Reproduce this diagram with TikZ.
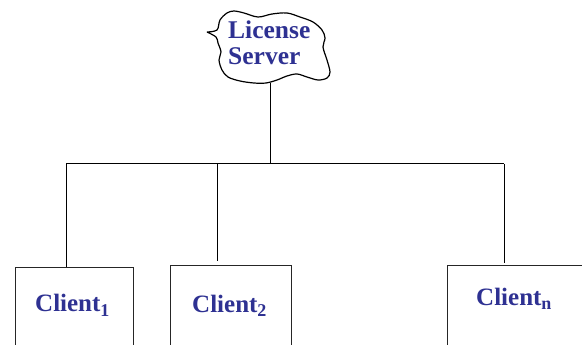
\documentclass[tikz,border=0pt]{standalone}
\usepackage{fontspec}
\setmainfont{Liberation Serif}
\definecolor{txtblue}{RGB}{46,49,146}
\begin{document}
\begin{tikzpicture}[x=1pt,y=-1pt,
  lbl/.style={font=\bfseries\fontsize{25.5}{26}\selectfont, text=txtblue, inner sep=0pt, anchor=base west, align=left},
  clbl/.style={font=\bfseries\fontsize{25}{26}\selectfont, text=txtblue, inner sep=0pt, anchor=base west},
  subs/.style={},
  cbox/.style={draw=black!85, line width=1.3pt, rectangle, anchor=north west, inner sep=0pt, minimum height=120pt},
  wire/.style={draw=black, line width=1pt}]
\useasboundingbox (0,0) rectangle (582,345);
\clip (0,0) rectangle (582,345);
% cloud
\draw[line width=1.2pt] plot[smooth, tension=0.55] coordinates {
 (207,32) (217,30) (220,20) (227,13) (234,11) (244,13) (258,17) (272,14) (287,13)
 (300,17) (313,22) (322,30) (325,38) (323,47) (327,60) (330,72) (327,78)
 (318,80) (307,77) (297,74) (287,76) (277,80) (266,83) (254,83) (240,81)
 (228,77) (222,70) (219,60) (221,52) (218,43) (216,37) (207,32)};
\node[lbl] (server) at (228,65) {License\\Server};
\coordinate (cloudbot) at (270,83);
% boxes
\node[cbox, minimum width=118pt] (b1) at (15,267) {};
\node[cbox, minimum width=121pt] (b2) at (170,265) {};
\node[cbox, minimum width=150pt] (bn) at (447,265) {};
\newcommand{\csub}[1]{\raisebox{-5pt}{\fontsize{18}{18}\selectfont #1}}
\node[clbl] (c1) at (35,311) {Client\csub{1}};
\node[clbl] (c2) at (192,312) {Client\csub{2}};
\node[clbl] (cn) at (476,305) {Client\csub{n}};
% wiring
\coordinate (j) at (270,164);
\coordinate (h1) at (66,164);
\coordinate (h2) at (217,164);
\coordinate (hn) at (504,164);
\draw[wire] (cloudbot) -- (j);
\draw[wire] (h1) -- (hn);
\draw[wire] (h1) -- (h1 |- b1.north);
\draw[wire] (h2) -- ([yshift=4pt]h2 |- b2.north);
\draw[wire] (hn) -- ([yshift=2pt]hn |- bn.north);
\end{tikzpicture}
\end{document}
